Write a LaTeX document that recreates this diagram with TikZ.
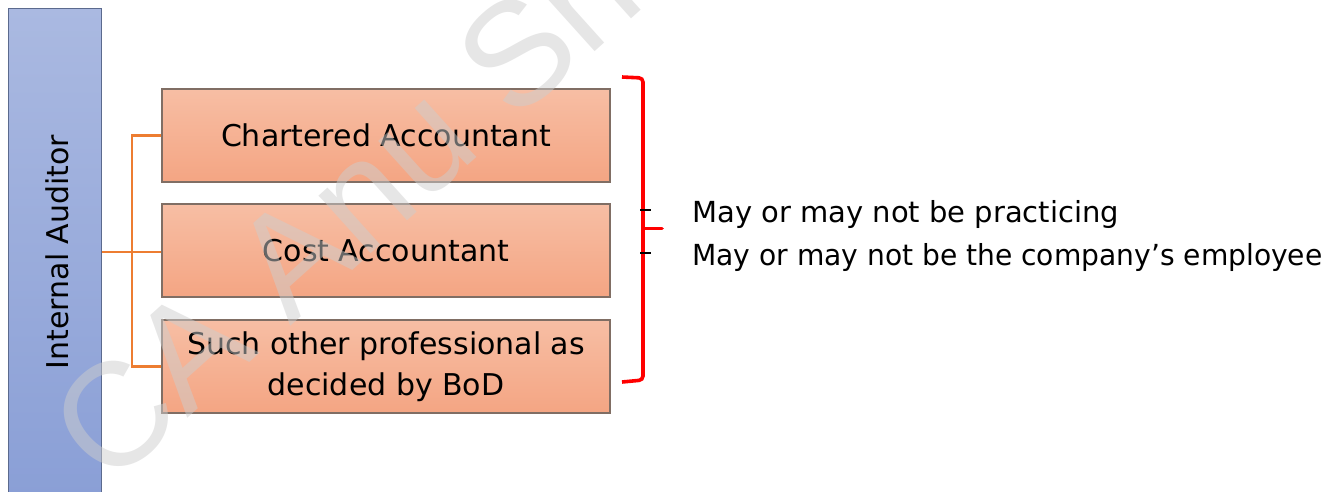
\documentclass[tikz,border=0pt]{standalone}
\usepackage{fontspec}
\setmainfont{DejaVu Sans}
\newfontfamily\markfont{Liberation Sans}
\definecolor{barTop}{RGB}{170,185,225}
\definecolor{barBot}{RGB}{138,159,214}
\definecolor{barEdge}{RGB}{91,106,142}
\definecolor{roleTop}{RGB}{247,190,164}
\definecolor{roleBot}{RGB}{244,165,131}
\definecolor{roleEdge}{RGB}{128,110,100}
\definecolor{linkOrange}{RGB}{237,125,49}
\definecolor{braceRed}{RGB}{255,0,0}
\definecolor{markGray}{RGB}{205,205,205}
\begin{document}
\begin{tikzpicture}[x=1pt,y=-1pt,
  barbox/.style={draw=barEdge, line width=1pt,
    top color=barTop, bottom color=barBot,
    minimum width=93pt, minimum height=488pt, inner sep=0pt},
  rolebox/.style={draw=roleEdge, line width=1.2pt,
    top color=roleTop, bottom color=roleBot,
    minimum width=448pt, minimum height=93pt, inner sep=0pt, align=center,
    font=\fontsize{30}{41}\selectfont},
  conn/.style={draw=linkOrange, line width=2.6pt},
  bracket/.style={draw=braceRed, line width=3.6pt, rounded corners=4pt},
  note/.style={anchor=base west, inner sep=0pt, font=\fontsize{29}{36}\selectfont},
  bullet/.style={draw=black, line width=2pt}]
\useasboundingbox (0,0) rectangle (1337,491);
\begin{scope}
\clip (0,0) rectangle (1337,491);
% vertical bar on the left
\node[barbox] (bar) at (55,252) {};
\node[rotate=90, font=\fontsize{30}{36}\selectfont] (barlabel) at (57,252) {Internal Auditor};

% the three qualifying roles
\node[rolebox] (b1) at (386,135.5) {Chartered Accountant};
\node[rolebox] (b2) at (386,250.5) {Cost Accountant};
\node[rolebox] (b3) at (386,366.5) {Such other professional as\\decided by BoD};

% orange tree connectors
\coordinate (j) at (132,252);
\draw[conn] (bar.east) -- (bar.east -| b2.west);
\draw[conn] (b1.west) -| (j) |- (b3.west);

% red closing brace with its point
\coordinate (tip) at (643,228.5);
\draw[bracket] (622,77) -- (643,78) -- (tip) -- (643,380) -- (622,382);
\draw[braceRed, line width=3.6pt, line cap=round] (tip) .. controls (648,228.5) .. (662,228.5);

% notes with dash bullets
\node[note] (t1) at (692,222) {May or may not be practicing};
\node[note] (t2) at (692,265) {\scalebox{0.97}[1]{May or may not be the company’s employee}};
\draw[bullet] (640,210) -- (651,210);
\draw[bullet] (640,253) -- (651,253);

% faint watermark across the picture
\node[rotate=42, anchor=base west, inner sep=0pt, text=markGray,
  text opacity=0.5, font=\markfont\fontsize{147}{147}\selectfont] (wm) at (108,490) {CA Anu Sharma};
\end{scope}
\end{tikzpicture}
\end{document}
